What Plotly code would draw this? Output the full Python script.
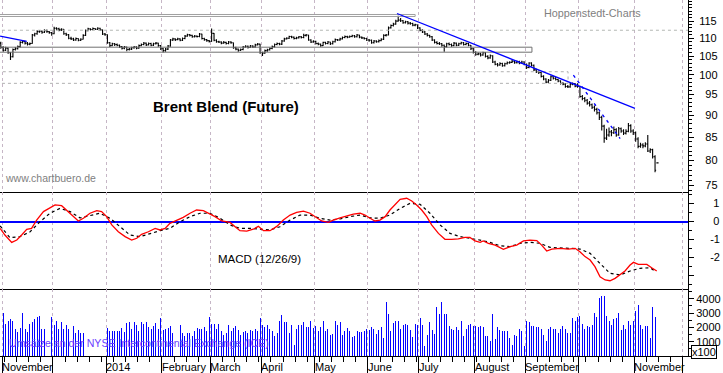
import math
import pandas as pd
import plotly.graph_objects as go
from plotly.subplots import make_subplots

# ---------------- data ----------------
FIRST_BAR = "2013-10-31"   # first trading day shown (index -1, Nov 1 2013 = 0)

bar_close = [
    107.4, 106.6, 107.2, 105.9, 104.8, 106.8, 107.0, 107.6, 108.8, 109.1,
    108.6, 108.3, 108.5, 110.9, 111.3, 111.9, 112.0, 111.7, 112.2, 111.9,
    111.6, 111.3, 112.9, 112.7, 112.4, 112.6, 111.3, 111.0, 110.0, 109.8,
    109.5, 109.9, 109.4, 109.7, 110.8, 112.2, 112.7, 112.5, 112.8, 112.6,
    112.9, 112.4, 111.2, 111.0, 108.7, 107.9, 108.4, 108.2, 108.0, 107.6,
    107.2, 107.5, 106.8, 106.9, 107.3, 107.5, 107.2, 107.9, 108.2, 108.6,
    108.1, 108.5, 108.0, 108.4, 108.6, 107.9, 107.0, 106.5, 106.9, 107.8,
    109.5, 109.8, 109.6, 109.8, 109.4, 109.9, 110.6, 111.0, 110.8, 110.4,
    110.6, 110.5, 111.2, 109.9, 109.6, 109.3, 109.1, 111.4, 109.4, 109.0,
    108.9, 108.6, 108.8, 108.5, 108.9, 108.7, 107.3, 106.9, 106.6, 106.8,
    107.5, 107.7, 107.4, 107.8, 107.5, 108.1, 108.3, 105.9, 105.8, 106.5,
    106.7, 107.1, 107.6, 108.2, 108.5, 108.3, 109.2, 109.8, 110.0, 110.5,
    110.3, 109.9, 110.1, 110.4, 110.2, 110.8, 110.9, 109.5, 108.9, 109.1,
    108.5, 108.3, 107.9, 108.8, 108.5, 108.9, 108.4, 109.0, 109.6, 109.5,
    109.8, 110.2, 110.5, 110.3, 110.5, 110.7, 110.4, 110.9, 110.3, 110.1,
    109.9, 109.5, 109.4, 108.7, 109.2, 109.0, 109.3, 109.7, 110.8, 110.9,
    113.0, 113.7, 114.1, 115.0, 115.3, 115.1, 114.5, 114.8, 114.4, 114.3,
    113.8, 113.9, 113.0, 112.3, 111.8, 111.2, 110.8, 110.4, 109.5, 108.8,
    108.5, 108.4, 108.0, 107.6, 108.4, 108.2, 107.9, 108.6, 108.0, 108.4,
    108.7, 108.2, 108.5, 108.0, 107.0, 106.0, 105.5, 105.6, 105.3, 105.9,
    104.9, 104.5, 105.1, 103.4, 102.8, 102.6, 103.0, 102.4, 102.9, 103.2,
    103.3, 103.6, 103.2, 103.5, 103.1, 103.4, 102.8, 101.9, 103.1, 102.5,
    101.3, 100.8, 100.6, 99.6, 98.9, 98.1, 98.6, 99.5, 99.1, 98.8,
    98.4, 97.8, 97.6, 97.0, 96.9, 97.6, 97.7, 97.1, 97.0, 94.5,
    94.0, 93.6, 92.9, 92.5, 91.9, 91.4, 90.6, 89.5, 87.5, 84.8,
    85.5, 86.2, 86.0, 86.7, 85.5, 86.9, 86.4, 85.9, 86.3, 87.6,
    86.4, 86.0, 84.6, 83.0, 83.3, 83.1, 83.5, 82.0, 82.3, 80.8,
    78.0, 79.5,
]

bar_open = [
    108.6, 107.4, 106.6, 107.2, 105.9, 104.8, 106.8, 107.0, 107.6, 108.8,
    109.1, 108.6, 108.3, 108.5, 110.9, 111.3, 111.9, 112.0, 111.7, 112.2,
    111.9, 111.6, 111.3, 112.9, 112.7, 112.4, 112.6, 111.3, 111.0, 110.0,
    109.8, 109.5, 109.9, 109.4, 109.7, 110.8, 112.2, 112.7, 112.5, 112.8,
    112.6, 112.9, 112.4, 111.2, 111.0, 108.7, 107.9, 108.4, 108.2, 108.0,
    107.6, 107.2, 107.5, 106.8, 106.9, 107.3, 107.5, 107.2, 107.9, 108.2,
    108.6, 108.1, 108.5, 108.0, 108.4, 108.6, 107.9, 107.0, 106.5, 106.9,
    107.8, 109.5, 109.8, 109.6, 109.8, 109.4, 109.9, 110.6, 111.0, 110.8,
    110.4, 110.6, 110.5, 111.2, 109.9, 109.6, 109.3, 109.1, 111.4, 109.4,
    109.0, 108.9, 108.6, 108.8, 108.5, 108.9, 108.7, 107.3, 106.9, 106.6,
    106.8, 107.5, 107.7, 107.4, 107.8, 107.5, 108.1, 108.3, 105.9, 105.8,
    106.5, 106.7, 107.1, 107.6, 108.2, 108.5, 108.3, 109.2, 109.8, 110.0,
    110.5, 110.3, 109.9, 110.1, 110.4, 110.2, 110.8, 110.9, 109.5, 108.9,
    109.1, 108.5, 108.3, 107.9, 108.8, 108.5, 108.9, 108.4, 109.0, 109.6,
    109.5, 109.8, 110.2, 110.5, 110.3, 110.5, 110.7, 110.4, 110.9, 110.3,
    110.1, 109.9, 109.5, 109.4, 108.7, 109.2, 109.0, 109.3, 109.7, 110.8,
    110.9, 113.0, 113.7, 114.1, 115.0, 115.3, 115.1, 114.5, 114.8, 114.4,
    114.3, 113.8, 113.9, 113.0, 112.3, 111.8, 111.2, 110.8, 110.4, 109.5,
    108.8, 108.5, 108.4, 108.0, 107.6, 108.4, 108.2, 107.9, 108.6, 108.0,
    108.4, 108.7, 108.2, 108.5, 108.0, 107.0, 106.0, 105.5, 105.6, 105.3,
    105.9, 104.9, 104.5, 105.1, 103.4, 102.8, 102.6, 103.0, 102.4, 102.9,
    103.2, 103.3, 103.6, 103.2, 103.5, 103.1, 103.4, 102.8, 101.9, 103.1,
    102.5, 101.3, 100.8, 100.6, 99.6, 98.9, 98.1, 98.6, 99.5, 99.1,
    98.8, 98.4, 97.8, 97.6, 97.0, 96.9, 97.6, 97.7, 97.1, 97.0,
    94.5, 94.0, 93.6, 92.9, 92.5, 91.9, 91.4, 90.6, 89.5, 87.5,
    84.8, 85.5, 86.2, 86.0, 86.7, 85.5, 86.9, 86.4, 85.9, 86.3,
    87.6, 86.4, 86.0, 84.6, 83.0, 83.3, 83.1, 83.5, 82.0, 82.3,
    80.8, 79.5,
]

bar_high = [
    109.0, 107.7, 107.6, 107.4, 106.1, 107.1, 107.5, 107.9, 109.1, 109.5,
    109.3, 108.9, 108.8, 111.2, 111.6, 112.3, 112.4, 112.2, 112.6, 112.5,
    112.1, 111.8, 113.3, 113.2, 113.0, 112.9, 112.7, 111.6, 111.2, 110.4,
    110.1, 110.2, 110.0, 110.0, 111.1, 112.5, 113.0, 112.9, 113.1, 112.9,
    113.2, 113.0, 112.5, 111.5, 111.1, 108.9, 108.7, 108.6, 108.5, 108.2,
    107.8, 107.8, 107.6, 107.2, 107.6, 107.8, 107.7, 108.2, 108.5, 108.9,
    108.8, 108.8, 108.7, 108.7, 108.9, 108.7, 108.1, 107.2, 107.2, 108.1,
    109.8, 110.1, 110.0, 110.1, 110.0, 110.2, 110.9, 111.3, 111.2, 111.0,
    110.9, 110.8, 111.5, 111.3, 110.1, 109.8, 109.5, 112.8, 111.5, 109.7,
    109.3, 109.1, 109.2, 109.0, 109.2, 109.1, 108.8, 107.6, 107.1, 107.1,
    107.8, 108.0, 107.9, 108.1, 108.0, 108.4, 108.6, 108.4, 106.2, 106.8,
    107.0, 107.4, 107.9, 108.5, 108.8, 108.7, 109.5, 110.1, 110.3, 110.7,
    110.7, 110.5, 110.4, 110.6, 110.6, 111.3, 111.2, 111.0, 109.7, 109.4,
    109.3, 108.8, 108.5, 109.0, 109.0, 109.2, 109.0, 109.3, 109.9, 109.8,
    110.1, 110.5, 110.8, 110.7, 110.8, 111.0, 110.9, 111.2, 111.0, 110.5,
    110.3, 110.1, 109.8, 109.6, 109.5, 109.4, 109.6, 110.0, 111.1, 111.2,
    113.4, 114.0, 114.5, 115.4, 116.6, 115.9, 115.3, 115.1, 115.0, 114.7,
    114.5, 114.2, 114.0, 113.2, 112.6, 112.1, 111.5, 111.0, 110.6, 109.7,
    109.1, 108.9, 108.6, 108.2, 108.7, 108.8, 108.5, 108.9, 108.8, 108.7,
    109.0, 108.9, 108.8, 108.7, 108.1, 107.2, 106.3, 106.0, 105.9, 106.2,
    106.1, 105.2, 105.4, 105.2, 103.7, 103.1, 103.3, 103.2, 103.2, 103.5,
    103.6, 103.9, 103.8, 103.8, 103.7, 103.7, 103.6, 103.0, 103.3, 103.3,
    102.7, 101.6, 101.1, 100.8, 99.9, 99.1, 98.9, 99.8, 99.7, 99.4,
    99.0, 98.6, 98.1, 97.8, 97.4, 97.9, 98.0, 97.9, 97.8, 97.2,
    94.9, 94.4, 93.9, 93.4, 92.8, 92.3, 91.8, 90.9, 89.9, 87.8,
    86.9, 87.2, 86.6, 87.4, 87.0, 87.3, 87.2, 86.8, 86.8, 88.2,
    87.9, 86.8, 86.3, 85.0, 83.8, 83.7, 83.9, 85.5, 82.6, 82.5,
    81.1, 79.5,
]

bar_low = [
    107.0, 106.2, 106.4, 105.6, 103.9, 104.6, 106.5, 106.8, 107.4, 108.5,
    108.2, 107.9, 108.0, 108.4, 110.5, 111.0, 111.6, 111.3, 111.5, 111.6,
    111.3, 110.7, 111.1, 112.3, 112.0, 112.1, 111.0, 110.6, 109.7, 109.5,
    109.2, 109.3, 109.1, 109.2, 109.6, 110.6, 112.0, 112.2, 112.3, 112.4,
    112.4, 112.1, 110.9, 110.7, 108.4, 107.5, 107.7, 107.8, 107.7, 107.2,
    106.8, 106.9, 106.3, 106.5, 106.7, 107.0, 106.9, 107.0, 107.7, 108.0,
    107.8, 107.9, 107.7, 107.8, 108.2, 107.6, 106.7, 106.0, 106.2, 106.7,
    107.6, 109.2, 109.2, 109.4, 109.1, 109.2, 109.7, 110.4, 110.5, 110.1,
    110.2, 110.2, 110.3, 109.6, 109.3, 109.0, 108.8, 109.0, 109.1, 108.7,
    108.6, 108.3, 108.4, 108.2, 108.3, 108.4, 107.0, 106.6, 106.2, 106.4,
    106.6, 107.3, 107.1, 107.2, 107.2, 107.3, 107.9, 105.6, 105.0, 105.6,
    106.2, 106.5, 106.9, 107.4, 108.0, 108.0, 108.1, 109.0, 109.6, 109.8,
    110.0, 109.6, 109.7, 109.9, 109.9, 110.0, 110.5, 109.3, 108.6, 108.7,
    108.2, 108.0, 107.6, 107.8, 108.2, 108.3, 108.1, 108.2, 108.8, 109.2,
    109.3, 109.6, 110.0, 110.0, 110.1, 110.3, 110.1, 110.2, 110.0, 109.8,
    109.6, 109.2, 109.0, 108.4, 108.5, 108.7, 108.8, 109.1, 109.5, 110.5,
    110.8, 112.8, 113.4, 113.9, 114.8, 114.7, 114.2, 114.3, 114.0, 113.9,
    113.5, 113.5, 112.7, 112.0, 111.5, 110.9, 110.5, 110.1, 109.2, 108.5,
    108.2, 108.1, 107.6, 106.2, 107.4, 107.9, 107.6, 107.7, 107.7, 107.8,
    108.2, 107.9, 108.0, 107.7, 106.7, 105.7, 105.1, 105.2, 104.9, 105.1,
    104.6, 104.1, 104.3, 103.1, 102.5, 102.2, 102.4, 102.1, 102.2, 102.7,
    102.9, 103.1, 102.9, 103.0, 102.8, 102.9, 102.5, 101.5, 101.7, 102.2,
    101.0, 100.5, 100.2, 99.3, 98.6, 97.8, 97.9, 98.4, 98.8, 98.5,
    98.1, 97.5, 97.3, 96.7, 96.6, 96.7, 97.3, 96.8, 96.7, 94.2,
    93.6, 93.1, 92.5, 92.1, 91.5, 90.9, 90.2, 88.9, 86.5, 83.8,
    84.4, 85.1, 85.2, 85.7, 85.1, 85.3, 86.0, 85.5, 85.6, 86.1,
    86.0, 85.5, 84.0, 82.6, 82.7, 82.6, 82.8, 81.8, 81.6, 80.4,
    77.6, 79.5,
]

# volume in units of 100 contracts (None = no bar printed)
volume = [
    None, 3000, 2250, 2430, 2600, 2430, 1920, 1690, 1950, 3000,
    1920, 1690, 2250, 2400, 2560, 2720, 2770, 1920, 1920, None,
    None, 2720, 2200, 2430, 1920, 2400, 1920, 2200, 1920, None,
    2130, 1600, 1850, 1600, 1600, None, None, None, None, None,
    None, None, None, None, 1950, 1720, 1720, 1720, 1780, 1720,
    1950, 1690, 2320, 2400, 1920, 2400, 2200, 1720, 2400, 2250,
    2400, 2020, 1920, 2100, 2320, 1920, 2650, 1850, 1920, 1950,
    2100, 1620, None, None, 2170, 1600, 1400, 1600, 1600, 1400,
    1720, 1950, 1920, 1920, 2020, 1720, 2700, 2250, 2250, 1920,
    2250, 1780, 1500, 1600, 2200, 1720, 1950, 2100, 1850, 1500,
    1690, 1720, 1600, 1800, 1720, 1920, 1780, 2650, 2200, 2020,
    2200, 1920, 1780, 1400, 1600, 2430, 2850, 2400, 2400, 1600,
    2200, 800, 1920, 2200, 2170, 2400, 2020, 2020, 2430, 1950,
    2100, 1720, 2020, 2430, 1720, 1920, 1460, 1560, 2450, 2200,
    2400, 1460, 1780, 1950, 1780, 1320, 1400, 1720, 1700, 1660,
    1720, 1920, 1800, 2040, 1920, 1570, 1800, 2040, 1280, 3750,
    2900, 1720, 2340, 2440, 2480, 1920, 2200, 2250, 2170, 1800,
    1320, 2250, 2200, 2650, 2200, 730, 1500, 2370, 1800, 1570,
    3450, 2900, 3780, 2950, 2900, 2100, 1870, 1800, 2000, 1800,
    2480, 1380, 1870, 2200, 2250, 2130, 2100, 2040, 2100, 2040,
    1430, 1430, 1030, 2930, 1190, 2000, 1800, 1720, 1720, 1720,
    1250, 780, 1500, 1380, 1870, 1720, 730, 2440, 2370, 2100,
    2100, 2000, 2040, 1920, 1500, 1030, 1870, 2000, 1920, 1920,
    1620, 1870, 2120, 1920, 1620, 1620, 2620, 2440, 2750, 2770,
    2250, 1920, 2100, 2040, 2200, 3010, 2700, 4060, 4220, 4220,
    2770, 2480, 2200, 2600, 2650, 3010, 1800, 2200, 1920, 2440,
    2200, 2480, 3130, 3540, 2200, 1920, 2130, 2130, 1250, 3450,
    2700, None,
]

# MACD (12/26/9) line and its signal line, sampled along the trading-day index
macd_day = [
    -1.3, 0.7, 3.5, 5.6, 7.6, 9.7, 11.7, 13.8, 16.6, 19.3,
    21.4, 24.1, 26.2, 28.3, 31.0, 33.1, 35.8, 38.6, 40.6, 42.7,
    44.8, 47.5, 50.3, 53.0, 55.1, 57.1, 59.9, 62.7, 64.7, 66.8,
    68.8, 71.6, 74.3, 77.1, 79.8, 82.6, 84.7, 87.4, 90.2, 93.6,
    95.7, 97.7, 100.5, 103.2, 105.3, 107.4, 110.1, 112.9, 115.6, 118.4,
    121.1, 123.9, 126.6, 129.4, 131.4, 134.2, 136.2, 139.0, 141.7, 144.5,
    147.3, 149.3, 151.4, 153.4, 155.5, 157.6, 159.6, 161.7, 163.8, 166.5,
    168.6, 170.6, 172.7, 174.8, 176.8, 179.6, 182.3, 185.1, 187.8, 190.6,
    192.6, 194.7, 196.8, 198.1, 200.2, 203.0, 206.4, 209.2, 211.9, 214.7,
    217.4, 220.2, 222.2, 224.3, 226.4, 229.8, 233.2, 236.0, 238.0, 240.1,
    242.2, 244.2, 246.3, 248.4, 250.4, 252.5, 254.6, 256.6, 258.7, 260.1,
    262.1, 265.6, 267.6, 269.7,
]
macd_val = [
    -0.38, -0.75, -1.16, -1.03, -0.75, -0.43, -0.38, 0.08, 0.55, 0.77,
    0.92, 0.88, 0.64, 0.36, 0.03, 0.18, 0.46, 0.60, 0.55, 0.27,
    -0.19, -0.57, -0.84, -1.03, -0.93, -0.71, -0.57, -0.38, -0.47, -0.38,
    -0.10, 0.08, 0.23, 0.46, 0.64, 0.60, 0.46, 0.27, 0.03, -0.05,
    -0.29, -0.51, -0.53, -0.43, -0.27, -0.51, -0.51, -0.27, 0.08, 0.36,
    0.51, 0.58, 0.46, 0.23, 0.03, -0.05, 0.08, 0.20, 0.31, 0.41,
    0.46, 0.36, 0.18, 0.03, 0.08, 0.27, 0.64, 0.92, 1.23, 1.29,
    1.14, 0.92, 0.64, 0.27, -0.19, -0.66, -0.99, -0.99, -0.97, -0.88,
    -0.88, -1.08, -1.16, -1.08, -1.21, -1.31, -1.55, -1.40, -1.31, -1.08,
    -1.03, -1.06, -1.31, -1.64, -1.53, -1.49, -1.53, -1.49, -1.68, -1.95,
    -2.14, -2.51, -3.07, -3.25, -3.29, -3.16, -2.93, -2.75, -2.42, -2.27,
    -2.38, -2.38, -2.57, -2.75,
]
signal_day = [
    -1.3, 2.8, 6.9, 11.1, 15.2, 19.3, 23.4, 27.6, 31.7, 35.8,
    39.9, 44.1, 48.2, 52.3, 56.5, 60.6, 64.7, 68.8, 73.0, 77.1,
    81.2, 85.3, 89.5, 93.6, 97.7, 101.9, 106.0, 110.1, 114.2, 118.4,
    122.5, 126.6, 130.7, 134.9, 139.0, 143.1, 147.3, 151.4, 155.5, 159.6,
    163.8, 167.9, 172.0, 176.1, 180.3, 184.4, 188.5, 192.6, 196.8, 200.9,
    205.0, 209.2, 213.3, 217.4, 221.5, 225.7, 229.8, 233.9, 238.0, 242.2,
    246.3, 250.4, 254.6, 258.7, 262.8, 266.9, 269.0,
]
signal_val = [
    -0.24, -0.90, -0.84, -0.57, -0.01, 0.46, 0.73, 0.55, 0.20, 0.31,
    0.46, 0.18, -0.29, -0.75, -0.84, -0.66, -0.51, -0.38, -0.01, 0.27,
    0.46, 0.46, 0.18, -0.19, -0.38, -0.38, -0.42, -0.47, -0.29, 0.08,
    0.36, 0.36, 0.18, 0.08, 0.14, 0.27, 0.36, 0.20, 0.18, 0.36,
    0.73, 1.01, 0.96, 0.46, -0.19, -0.66, -0.84, -0.93, -1.03, -1.16,
    -1.35, -1.40, -1.21, -1.16, -1.21, -1.44, -1.45, -1.49, -1.53, -1.77,
    -2.33, -2.88, -2.97, -2.75, -2.60, -2.57, -2.75,
]

# analyst drawings on the price panel (trading-day index, price)
trend1_day, trend1_price = [-1.3, 9.7], [110.6, 109.1]
trend2_day, trend2_price = [162.5, 260.7], [117.3, 91.65]
trend3_day, trend3_price = [235.3, 254.6], [99.9, 84.7]
zone_end_day = [170.0, 218.2, 233.1]
zone_low = [116.4, 106.06, 97.8]
zone_high = [117.0, 107.45, 100.8]
level_price = 112.3

month_labels = ["November", "", "2014", "February", "March", "April", "May",
                "June", "July", "August", "September", "", "November"]
price_ticks = [75, 80, 85, 90, 95, 100, 105, 110, 115]
macd_ticks = [-3, -2, -1, 0, 1]
volume_ticks = [1000, 2000, 3000, 4000]

# ---------------- derived positions ----------------
bar_dates = pd.bdate_range(FIRST_BAR, periods=len(bar_close))
bar_x = [k - 1 for k in range(len(bar_dates))]          # Nov 1 2013 -> 0
axis_days = pd.bdate_range("2013-11-01", "2014-12-31")
month_edges = []
prev = None
for k, d in enumerate(axis_days):
    key = (d.year, d.month)
    if key != prev:
        month_edges.append(k - 0.5)
        prev = key

X_RANGE = [-1.33, 282.6]
FONT = "Arial, 'Liberation Sans', sans-serif"
PH = 356.0
PW = 688.0
ONE_PX = (X_RANGE[1] - X_RANGE[0]) / PW

fig = make_subplots(rows=3, cols=1, shared_xaxes=True, vertical_spacing=0,
                    row_heights=[192, 97, 67])

# zones (rectangles)
zone_colors = ["#a0a0a0", "#707070", "#b0b0b0"]
zone_dash = ["solid", "solid", "dot"]
for xe, lo, hi, c, dsh in zip(zone_end_day, zone_low, zone_high, zone_colors, zone_dash):
    fig.add_trace(go.Scatter(x=[-3, xe, xe, -3], y=[lo, lo, hi, hi], mode="lines",
                             line=dict(color=c, width=1, dash=dsh),
                             hoverinfo="skip", showlegend=False), row=1, col=1)
fig.add_trace(go.Scatter(x=[-3, 290], y=[level_price, level_price], mode="lines",
                         line=dict(color="#b4b8b4", width=1, dash="3px,3px"),
                         hoverinfo="skip", showlegend=False), row=1, col=1)

fig.add_trace(go.Ohlc(x=bar_x, open=bar_open, high=bar_high, low=bar_low, close=bar_close,
                      increasing=dict(line=dict(color="black", width=1.1)),
                      decreasing=dict(line=dict(color="black", width=1.1)),
                      tickwidth=0.45, hoverinfo="skip", showlegend=False), row=1, col=1)

for d, p, dsh in [(trend1_day, trend1_price, "solid"), (trend2_day, trend2_price, "solid"),
                  (trend3_day, trend3_price, "3px,4px")]:
    fig.add_trace(go.Scatter(x=d, y=p, mode="lines", line=dict(color="#0000ff", width=1.3, dash=dsh),
                             hoverinfo="skip", showlegend=False), row=1, col=1)

fig.add_trace(go.Scatter(x=signal_day, y=signal_val, mode="lines",
                         line=dict(color="black", width=1.2, dash="3px,3px"),
                         hoverinfo="skip", showlegend=False), row=2, col=1)
fig.add_trace(go.Scatter(x=macd_day, y=macd_val, mode="lines",
                         line=dict(color="#ff0000", width=1.3),
                         hoverinfo="skip", showlegend=False), row=2, col=1)

fig.add_trace(go.Bar(x=bar_x, y=volume, width=ONE_PX,
                     marker=dict(color="rgba(0,0,255,0.99)", line=dict(width=0)),
                     hoverinfo="skip", showlegend=False), row=3, col=1)

xcommon = dict(range=X_RANGE, tickmode="array", tickvals=month_edges, showticklabels=False,
               showgrid=True, gridcolor="#c6b6c6", griddash="3px,3px", gridwidth=1,
               showline=True, linecolor="black", linewidth=1, zeroline=False, ticks="")
fig.update_xaxes(**xcommon)
fig.update_xaxes(ticks="outside", ticklen=17, tickcolor="black", tickwidth=1,
                 minor=dict(ticks="outside", ticklen=5, tickcolor="black", tick0=0.5, dtick=5,
                            showgrid=False), row=3, col=1)
fig.update_layout(xaxis_rangeslider_visible=False)

ycommon = dict(side="right", showline=True, linecolor="black", linewidth=1, showgrid=False,
               ticks="outside", tickcolor="black", ticklen=5,
               tickfont=dict(family=FONT, size=11, color="black"))
fig.update_yaxes(**ycommon)
fig.update_yaxes(type="log", range=[math.log10(73.7), math.log10(121.5)],
                 tickmode="array", tickvals=price_ticks,
                 ticktext=[("\u2007" + str(v)) if v < 100 else str(v) for v in price_ticks],
                 minor=dict(tickmode="array", tickvals=list(range(74, 122)), ticks="outside",
                            ticklen=3, tickcolor="black"),
                 zeroline=False, ticklabelstandoff=3, row=1, col=1)
fig.update_yaxes(range=[-3.75, 1.64], tickmode="array", tickvals=macd_ticks,
                 ticktext=["" if v < -2 else ("\u00a0" + str(v) if v >= 0 else str(v)) for v in macd_ticks],
                 minor=dict(ticks="outside", ticklen=3, tickcolor="black", tick0=0, dtick=0.5),
                 zeroline=True, zerolinecolor="#0000ff", zerolinewidth=1.6,
                 ticklabelstandoff=14, row=2, col=1)
fig.update_yaxes(range=[0, 4680], tickmode="array", tickvals=volume_ticks,
                 ticktext=[str(v) for v in volume_ticks],
                 minor=dict(ticks="outside", ticklen=3, tickcolor="black", tick0=0, dtick=500),
                 zeroline=False, ticklabelstandoff=0, row=3, col=1)

ann = []
for edge, lab in zip(month_edges, month_labels):
    if lab:
        ann.append(dict(x=edge, xref="x3", y=-3 / PH, yref="paper", text=lab, showarrow=False,
                        xanchor="left", yanchor="top", xshift=-2,
                        font=dict(family=FONT, size=11, color="black")))
ann += [
    dict(x=226.5 / PW, y=1 - 106.5 / PH, xref="paper", yref="paper", text="<b>Brent Blend (Future)</b>",
         showarrow=False, xanchor="center", yanchor="middle",
         font=dict(family=FONT, size=15, color="black")),
    dict(x=3 / PW, y=1 - 178 / PH, xref="paper", yref="paper", text="www.chartbuero.de",
         showarrow=False, xanchor="left", yanchor="middle",
         font=dict(family=FONT, size=10.5, color="#808080")),
    dict(x=542 / PW, y=1 - 13 / PH, xref="paper", yref="paper", text="Hoppenstedt-Charts",
         showarrow=False, xanchor="left", yanchor="middle",
         font=dict(family=FONT, size=10.8, color="#808080")),
    dict(x=216 / PW, y=1 - 259 / PH, xref="paper", yref="paper", text="MACD (12/26/9)",
         showarrow=False, xanchor="left", yanchor="middle",
         font=dict(family=FONT, size=11.5, color="black")),
    dict(x=7 / PW, y=1 - 343 / PH, xref="paper", yref="paper",
         text="Umsätze an der NYSE Intercontinental Exchange (ICE)",
         showarrow=False, xanchor="left", yanchor="middle",
         font=dict(family=FONT, size=10.6, color="#6a3cff")),
    dict(x=703.5 / PW, y=(PH - 351.5) / PH, xref="paper", yref="paper", text="x100",
         showarrow=False, xanchor="center", yanchor="middle", bordercolor="black", borderwidth=1,
         borderpad=0, bgcolor="white", font=dict(family=FONT, size=11, color="black")),
]

fig.update_layout(width=723, height=373, margin=dict(l=0, r=35, t=0, b=17, pad=0),
                  paper_bgcolor="white", plot_bgcolor="white", showlegend=False,
                  annotations=ann, font=dict(family=FONT, size=11, color="black"),
                  bargap=0)
fig.write_html("out.html", config={"displayModeBar": False},
               post_script="document.body.style.margin='0';document.body.style.overflow='hidden';")
